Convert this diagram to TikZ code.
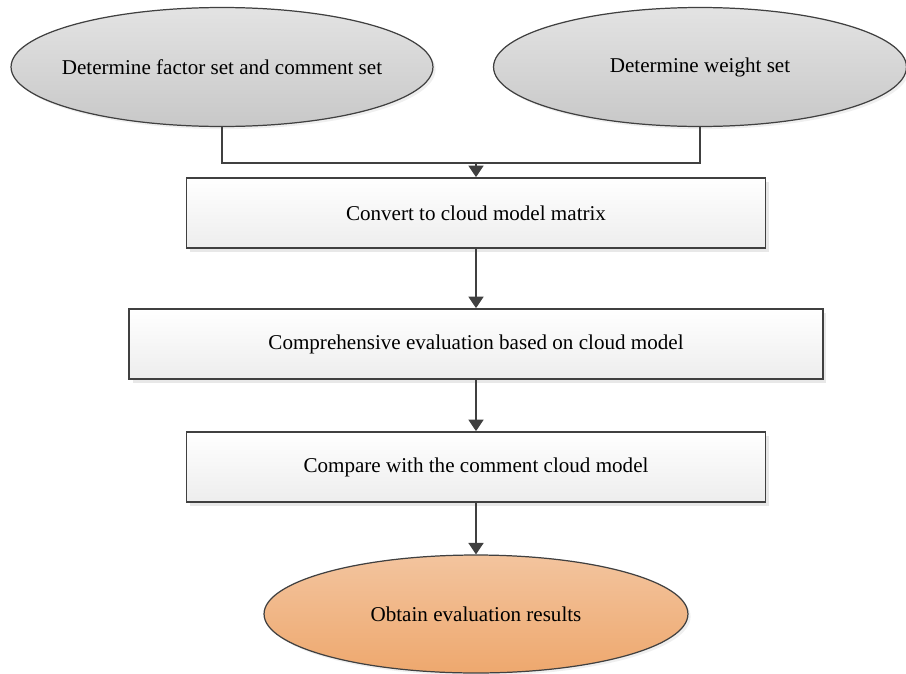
\documentclass[tikz,border=0pt]{standalone}
\usepackage{fontspec}
\setmainfont{Liberation Serif}
\usetikzlibrary{arrows.meta,shadows,shapes.geometric}

\definecolor{linegray}{HTML}{404040}
\definecolor{ovaltop}{HTML}{E3E3E3}
\definecolor{ovalbot}{HTML}{C8C8C8}
\definecolor{boxtop}{HTML}{FFFFFF}
\definecolor{boxbot}{HTML}{EDEDED}
\definecolor{resulttop}{HTML}{F3C49E}
\definecolor{resultbot}{HTML}{EEA86E}

\tikzset{
  oval/.style={ellipse, draw=linegray, line width=0.7pt,
    top color=ovaltop, bottom color=ovalbot,
    minimum width=8.44cm, minimum height=2.38cm, inner ysep=0pt, inner xsep=-1.5cm,
    drop shadow={shadow xshift=1.5pt, shadow yshift=-1.5pt, fill=black!12}},
  stepbox/.style={rectangle, draw=linegray, line width=1pt,
    top color=boxtop, bottom color=boxbot,
    minimum height=1.4cm, inner sep=0pt,
    drop shadow={shadow xshift=2pt, shadow yshift=-2pt, fill=black!18}},
  link/.style={draw=linegray, line width=1pt},
  arr/.style={link, -{Triangle[width=8.5pt, length=6.5pt]}},
}

\begin{document}
\begin{tikzpicture}[x=0.02cm, y=-0.02cm, font=\fontsize{12}{14}\selectfont]
  \useasboundingbox (0,0) rectangle (906,673);

  % Inputs (grey ovals)
  \node[oval] (factors) at (222,67) {Determine factor set and comment set};
  \node[oval, minimum width=8.26cm] (weights) at (700,67) {Determine weight set};

  % Processing steps
  \node[stepbox, minimum width=11.58cm] (convert) at (476,213) {Convert to cloud model matrix};
  \node[stepbox, minimum width=13.88cm] (evaluate) at (476,344) {Comprehensive evaluation based on cloud model};
  \node[stepbox, minimum width=11.58cm] (compare) at (476,467) {Compare with the comment cloud model};

  % Result (orange oval)
  \node[oval, top color=resulttop, bottom color=resultbot,
        minimum width=8.48cm, minimum height=2.36cm] (result) at (476,614) {Obtain evaluation results};

  % Connectors
  \coordinate (join) at (476,163);
  \draw[link] (factors.south) |- (join) -| (weights.south);
  \draw[arr] (join) -- (convert.north);
  \draw[arr] (convert.south) -- (evaluate.north);
  \draw[arr] (evaluate.south) -- (compare.north);
  \draw[arr] (compare.south) -- (result.north);
\end{tikzpicture}
\end{document}
